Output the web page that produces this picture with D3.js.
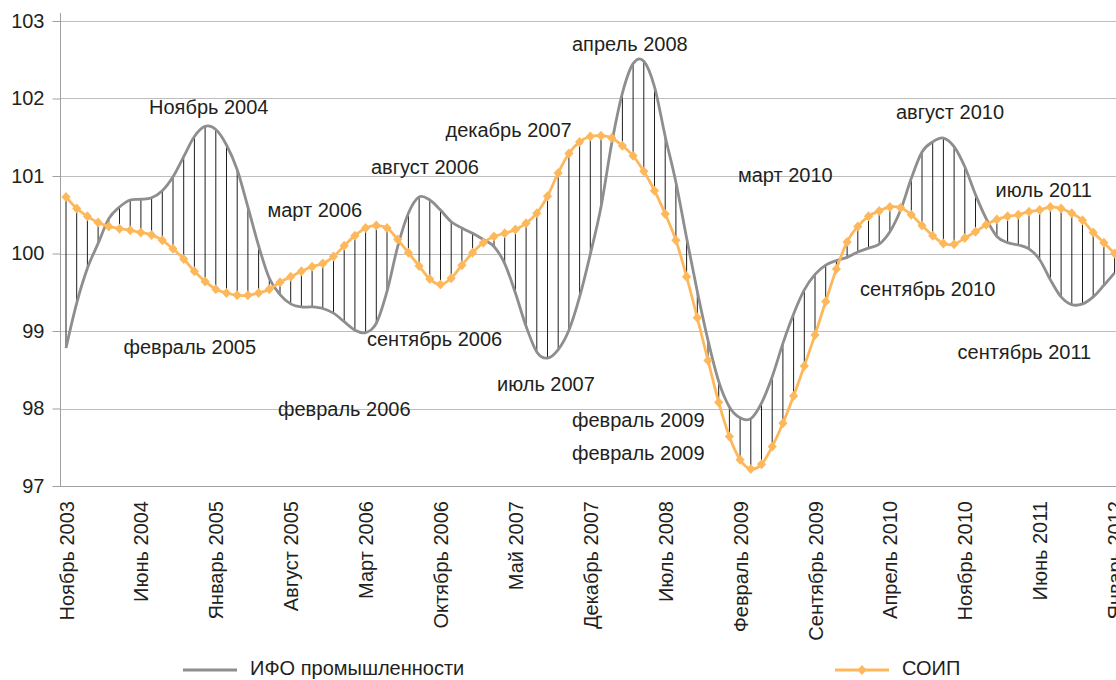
<!DOCTYPE html>
<html>
<head>
<meta charset="utf-8">
<script src="https://cdn.jsdelivr.net/npm/d3@7"></script>
<style>
  html, body { margin: 0; padding: 0; background: #ffffff; }
  svg { display: block; }
  text { font-family: "Liberation Sans", Arial, sans-serif; fill: #231f20; }
</style>
</head>
<body>
<script>
// ---- Data ----
const monthNames = ["Январь","Февраль","Март","Апрель","Май","Июнь","Июль","Август","Сентябрь","Октябрь","Ноябрь","Декабрь"];
const startYear = 2003, startMonth = 10, monthCount = 99; // Nov 2003 .. Jan 2012
const categories = [];
for (let k = 0; k < monthCount; k++) {
  const m = (startMonth + k) % 12, yr = startYear + Math.floor((startMonth + k) / 12);
  categories.push(monthNames[m] + " " + yr);
}
const tickIndex = [0, 7, 14, 21, 28, 35, 42, 49, 56, 63, 70, 77, 84, 91, 98];
const yTicks = [97, 98, 99, 100, 101, 102, 103];

const seriesNames = ["ИФО промышленности", "СОИП"];

// ИФО промышленности (grey, smoothed)
const ifo = [
  98.78, 99.36, 99.81, 100.13, 100.45, 100.60, 100.69, 100.70, 100.72, 100.81,
  100.99, 101.25, 101.51, 101.64, 101.60, 101.40, 101.08, 100.60, 100.10, 99.68,
  99.47, 99.35, 99.31, 99.31, 99.29, 99.23, 99.12, 99.01, 98.98, 99.10,
  99.51, 100.09, 100.52, 100.73, 100.69, 100.56, 100.41, 100.33, 100.26, 100.18,
  100.09, 99.87, 99.49, 99.06, 98.73, 98.65, 98.76, 99.01, 99.44, 99.99,
  100.60, 101.42, 102.07, 102.45, 102.48, 102.15, 101.51, 100.92, 100.20, 99.51,
  98.88, 98.35, 98.02, 97.88, 97.87, 98.07, 98.41, 98.84, 99.22, 99.53,
  99.73, 99.85, 99.91, 99.95, 100.02, 100.07, 100.12, 100.28, 100.56, 100.97,
  101.31, 101.44, 101.49, 101.38, 101.12, 100.76, 100.45, 100.22, 100.14, 100.11,
  100.06, 99.92, 99.66, 99.44, 99.34, 99.35, 99.44, 99.59, 99.75
];

// СОИП (orange, diamonds)
const soip = [
  100.73, 100.58, 100.48, 100.40, 100.35, 100.32, 100.30, 100.27, 100.24, 100.17,
  100.06, 99.93, 99.77, 99.64, 99.54, 99.49, 99.46, 99.46, 99.49, 99.54,
  99.63, 99.70, 99.77, 99.83, 99.87, 99.96, 100.10, 100.23, 100.33, 100.36,
  100.33, 100.18, 100.01, 99.84, 99.67, 99.60, 99.68, 99.85, 100.01, 100.14,
  100.22, 100.26, 100.31, 100.39, 100.52, 100.74, 101.04, 101.29, 101.44, 101.51,
  101.52, 101.49, 101.39, 101.26, 101.06, 100.81, 100.51, 100.17, 99.70, 99.17,
  98.62, 98.08, 97.64, 97.34, 97.22, 97.28, 97.51, 97.81, 98.16, 98.55,
  98.95, 99.38, 99.80, 100.15, 100.35, 100.48, 100.55, 100.60, 100.59, 100.50,
  100.36, 100.23, 100.13, 100.12, 100.20, 100.28, 100.37, 100.44, 100.48, 100.50,
  100.54, 100.56, 100.60, 100.58, 100.52, 100.43, 100.27, 100.14, 100.00
];

// Annotations: text, month position, value position
const annText = ["Ноябрь 2004", "март 2006", "февраль 2005", "февраль 2006", "август 2006",
  "сентябрь 2006", "июль 2007", "декабрь 2007", "апрель 2008", "февраль 2009", "февраль 2009",
  "март 2010", "август 2010", "июль 2011", "сентябрь 2010", "сентябрь 2011"];
const annPos = [7.76, 18.83, 5.37, 19.81, 28.50, 28.13, 40.28, 35.47, 47.29, 47.29, 47.29,
  62.8, 77.57, 86.87, 74.21, 83.32];
const annVal = [101.89, 100.56, 98.79, 97.99, 101.12, 98.90, 98.32, 101.59, 102.70, 97.85, 97.43,
  101.01, 101.83, 100.82, 99.54, 98.73];

// ---- Drawing ----
const W = 1116, H = 680;
const svg = d3.select("body").append("svg").attr("width", W).attr("height", H);

const x = d3.scaleLinear().domain([0, monthCount - 1]).range([66, 1114.6]);
const y = d3.scaleLinear().domain([97, 103]).range([486, 21]);
const axisX = 60, plotRight = 1116;

// gridlines
svg.append("g").selectAll("line").data(yTicks.filter(t => t > 97)).join("line")
  .attr("x1", axisX).attr("x2", plotRight)
  .attr("y1", d => Math.round(y(d)) + 0.5).attr("y2", d => Math.round(y(d)) + 0.5)
  .attr("stroke", "#bdbdbd").attr("stroke-width", 1);

// y axis
const yAxis = svg.append("g").attr("transform", `translate(${axisX + 0.5},0)`)
  .call(d3.axisLeft(y).tickValues(yTicks).tickSize(8).tickSizeOuter(0).tickPadding(8).tickFormat(d3.format("d")));
yAxis.select(".domain").remove();
yAxis.selectAll(".tick line").attr("stroke", "#a0a0a0");
yAxis.selectAll("text").style("font-size", "20px").attr("fill", "#231f20");
svg.append("line").attr("x1", axisX + 0.5).attr("x2", axisX + 0.5).attr("y1", 13).attr("y2", y(97))
  .attr("stroke", "#a0a0a0").attr("stroke-width", 1);

// x axis
svg.append("line").attr("x1", axisX).attr("x2", plotRight)
  .attr("y1", Math.round(y(97)) + 0.5).attr("y2", Math.round(y(97)) + 0.5)
  .attr("stroke", "#a0a0a0").attr("stroke-width", 1);
const xAxis = svg.append("g").attr("transform", `translate(0,${y(97)})`)
  .call(d3.axisBottom(x).tickValues(tickIndex).tickSize(0).tickFormat(i => categories[i]));
xAxis.select(".domain").remove();
xAxis.selectAll("text")
  .attr("transform", "rotate(-90)")
  .attr("text-anchor", "end")
  .attr("x", -15).attr("y", 0).attr("dy", "0.35em")
  .style("font-size", "20px").attr("fill", "#231f20");

// high-low lines
svg.append("g").selectAll("line").data(d3.range(monthCount)).join("line")
  .attr("x1", i => x(i)).attr("x2", i => x(i))
  .attr("y1", i => y(ifo[i])).attr("y2", i => y(soip[i]))
  .attr("stroke", "#1e1e1e").attr("stroke-width", 1);

const curve = d3.curveCardinal.tension(0);
const line = d3.line().x((d, i) => x(i)).y(d => y(d)).curve(curve);

const grey = "#8e8e8e", orange = "#fdb85c";

svg.append("path").datum(ifo).attr("d", line)
  .attr("fill", "none").attr("stroke", grey).attr("stroke-width", 2.8);
svg.append("path").datum(soip).attr("d", line)
  .attr("fill", "none").attr("stroke", orange).attr("stroke-width", 2.8);

const diamond = "M0,-5L4.6,0L0,5L-4.6,0Z";
svg.append("g").selectAll("path").data(soip).join("path")
  .attr("transform", (d, i) => `translate(${x(i)},${y(d)})`)
  .attr("d", diamond).attr("fill", orange);

// annotations
svg.append("g").selectAll("text").data(annText).join("text")
  .attr("x", (d, i) => x(annPos[i])).attr("y", (d, i) => y(annVal[i]))
  .attr("dy", "0.35em").style("font-size", "20px").text(d => d);

// legend
const ly = 668;
const lg = svg.append("g");
lg.append("line").attr("x1", 183).attr("x2", 237).attr("y1", ly + 2).attr("y2", ly + 2)
  .attr("stroke", grey).attr("stroke-width", 2.8);
lg.append("text").attr("x", 250).attr("y", ly).attr("dy", "0.35em").style("font-size", "20px").text(seriesNames[0]);
lg.append("line").attr("x1", 835).attr("x2", 889).attr("y1", ly + 2).attr("y2", ly + 2)
  .attr("stroke", orange).attr("stroke-width", 2.8);
lg.append("path").attr("transform", `translate(862,${ly + 2})`).attr("d", diamond).attr("fill", orange);
lg.append("text").attr("x", 902).attr("y", ly).attr("dy", "0.35em").style("font-size", "20px").text(seriesNames[1]);
</script>
</body>
</html>
